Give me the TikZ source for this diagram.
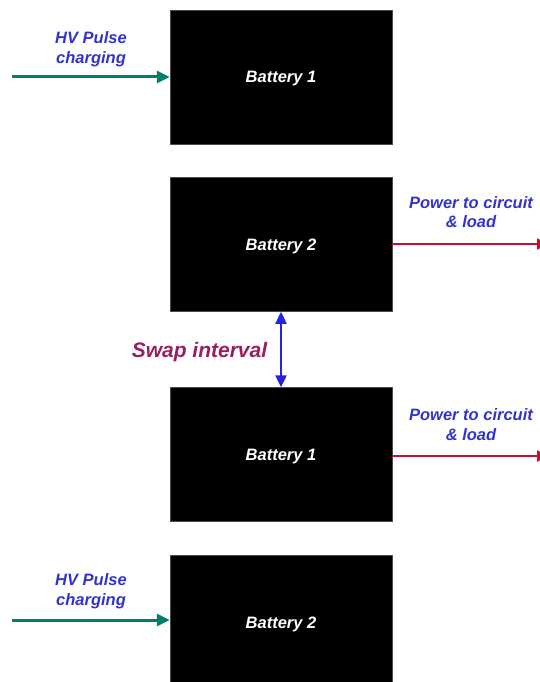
\documentclass[tikz,border=0pt]{standalone}
\usepackage{fontspec}
\setmainfont{Liberation Sans}
\usetikzlibrary{arrows.meta}
\definecolor{teal1}{HTML}{007F6E}
\definecolor{red1}{HTML}{C8102E}
\definecolor{blue1}{HTML}{2323E6}
\definecolor{txtblue}{HTML}{3333CC}
\definecolor{purp}{HTML}{99205F}
\newcommand{\btxt}[1]{\raisebox{-6pt}[0pt][0pt]{#1}}
\tikzset{
  battery/.style={fill=black, draw=black!70, line width=0.5pt, minimum width=222pt, minimum height=134pt, inner sep=0pt, text=white, font=\fontsize{16.5}{19}\selectfont\bfseries\itshape},
  lbl/.style={text=txtblue, align=center, inner sep=0pt, font=\fontsize{16.5}{19.5}\selectfont\bfseries\itshape},
  charge/.style={draw=teal1, line width=3pt, -{Triangle[length=13pt,width=12pt]}},
  power/.style={draw=red1, line width=2.4pt, -{Triangle[length=11pt,width=11pt]}},
  swap/.style={draw=blue1, line width=2.4pt, {Triangle[length=12pt,width=11pt]}-{Triangle[length=12pt,width=11pt]}}
}
\begin{document}
\begin{tikzpicture}[x=1pt,y=-1pt]
\useasboundingbox (0,0) rectangle (540,682);
\clip (0,0) rectangle (540,682);
\node[battery] (b1) at (281,77) {\btxt{Battery 1}};
\node[battery] (b2) at (281,244.5) {\btxt{Battery 2}};
\node[battery] (b3) at (281,454.5) {\btxt{Battery 1}};
\node[battery] (b4) at (281,622) {\btxt{Battery 2}};
\coordinate (c1) at (12,77);
\coordinate (c4) at (12,620);
\coordinate (p2) at (548,244);
\coordinate (p3) at (548,456);
\draw[charge] (c1) -- (b1.west |- c1);
\draw[charge] (c4) -- (b4.west |- c4);
\draw[power] (b2.east |- p2) -- (p2);
\draw[power] (b3.east |- p3) -- (p3);
\draw[swap] (b2.south) -- (b3.north);
\node[lbl] (h1) at (91,49) {HV Pulse\\charging};
\node[lbl] (h4) at (91,591) {HV Pulse\\charging};
\node[lbl] (w2) at (471,212) {Power to circuit\\\& load};
\node[lbl] (w3) at (471,424.5) {Power to circuit\\\& load};
\node[text=purp, inner sep=0pt, font=\fontsize{21}{24}\selectfont\bfseries\itshape] (s) at (199.5,352) {Swap interval};
\end{tikzpicture}
\end{document}
